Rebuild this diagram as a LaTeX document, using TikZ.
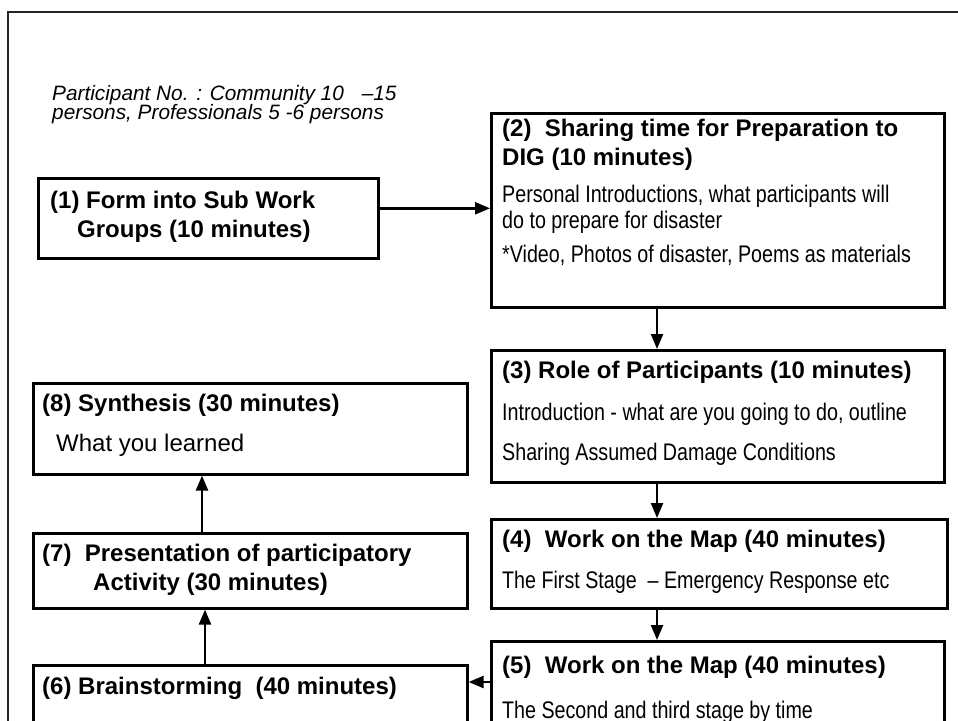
\documentclass[tikz,border=0pt]{standalone}
\usepackage{fontspec}
\setmainfont{Liberation Sans}
\newfontfamily\narrowfont[FakeStretch=0.82]{Liberation Sans}
\usetikzlibrary{arrows.meta}

\tikzset{
  stepbox/.style={draw=black, line width=2.6pt, rectangle, inner sep=0pt, anchor=north west},
  frame/.style={draw=black!85, line width=2.2pt},
  head/.style={anchor=base west, inner sep=0pt, font=\fontsize{24}{28}\selectfont\bfseries},
  body/.style={anchor=base west, inner sep=0pt, font=\fontsize{24}{28}\selectfont\narrowfont},
  plain/.style={anchor=base west, inner sep=0pt, font=\fontsize{24}{28}\selectfont},
  note/.style={anchor=base west, inner sep=0pt, font=\fontsize{20.8}{24}\selectfont\itshape},
  arr/.style={line width=2.4pt, -{Triangle[width=12pt,length=15pt]}},
}

\begin{document}
\begin{tikzpicture}[x=1pt, y=-1pt]
\useasboundingbox (0,0) rectangle (958,720);
\clip (0,0) rectangle (958,720);

% outer frame (runs off the right and bottom edges)
\draw[frame] (8,12) rectangle (990,760);

% group size note
\node[note] (n1) at (52,100) {Participant No. : Community 10\hspace{18pt}–15};
\node[note] (n2) at (52,119) {persons, Professionals 5 -6 persons};

% step boxes
\node[stepbox, minimum width=340pt, minimum height=80pt]  (b1) at (37,177) {};
\node[stepbox, minimum width=453pt, minimum height=194pt] (b2) at (490,112) {};
\node[stepbox, minimum width=453pt, minimum height=132pt] (b3) at (490,349) {};
\node[stepbox, minimum width=456pt, minimum height=89pt]  (b4) at (490,518) {};
\node[stepbox, minimum width=453pt, minimum height=120pt] (b5) at (490,640) {};
\node[stepbox, minimum width=434pt, minimum height=120pt] (b6) at (32,664) {};
\node[stepbox, minimum width=434pt, minimum height=75pt]  (b7) at (32,532) {};
\node[stepbox, minimum width=434pt, minimum height=91pt]  (b8) at (32,382) {};

% (1)
\node[head] (t1a) at (50,208) {(1) Form into Sub Work};
\node[head] (t1b) at (77,237) {Groups (10 minutes)};

% (2)
\node[head] (t2a) at (502,136) {(2)\ \ Sharing time for Preparation to};
\node[head] (t2b) at (502,165) {DIG (10 minutes)};
\node[body] (t2c) at (502,202) {Personal Introductions, what participants will};
\node[body] (t2d) at (502,228) {do to prepare for disaster};
\node[body] (t2e) at (502,262) {*Video, Photos of disaster, Poems as materials};

% (3)
\node[head] (t3a) at (502,378) {(3) Role of Participants (10 minutes)};
\node[body] (t3b) at (502,420) {Introduction - what are you going to do, outline};
\node[body] (t3c) at (502,460) {Sharing Assumed Damage Conditions};

% (4)
\node[head] (t4a) at (502,547) {(4)\ \ Work on the Map (40 minutes)};
\node[body] (t4b) at (502,588) {The First Stage\ \ – Emergency Response etc};

% (5)
\node[head] (t5a) at (502,673) {(5)\ \ Work on the Map (40 minutes)};
\node[body] (t5b) at (502,718) {The Second and third stage by time};

% (6)
\node[head] (t6a) at (42,694) {(6) Brainstorming\ \ (40 minutes)};

% (7)
\node[head] (t7a) at (42,561) {(7)\ \ Presentation of participatory};
\node[head] (t7b) at (93,590) {Activity (30 minutes)};

% (8)
\node[head] (t8a) at (42,411) {(8) Synthesis (30 minutes)};
\node[plain] (t8b) at (56,451) {What you learned};

% connectors
\coordinate (a12) at ([yshift=10pt]b1.east);
\draw[arr] (a12) -- (a12 -| b2.west);

\coordinate (xr) at (657,0);
\draw[arr] (xr |- b2.south) -- (xr |- b3.north);
\draw[arr] (xr |- b3.south) -- (xr |- b4.north);
\draw[arr] (xr |- b4.south) -- (xr |- b5.north);

\coordinate (a56) at (b5.west |- 0,682);
\draw[arr] (a56) -- (a56 -| b6.east);

\coordinate (xl6) at (205,0);
\coordinate (xl7) at (202,0);
\draw[arr] (xl6 |- b6.north) -- (xl6 |- b7.south);
\draw[arr] (xl7 |- b7.north) -- (xl7 |- b8.south);
\end{tikzpicture}
\end{document}
